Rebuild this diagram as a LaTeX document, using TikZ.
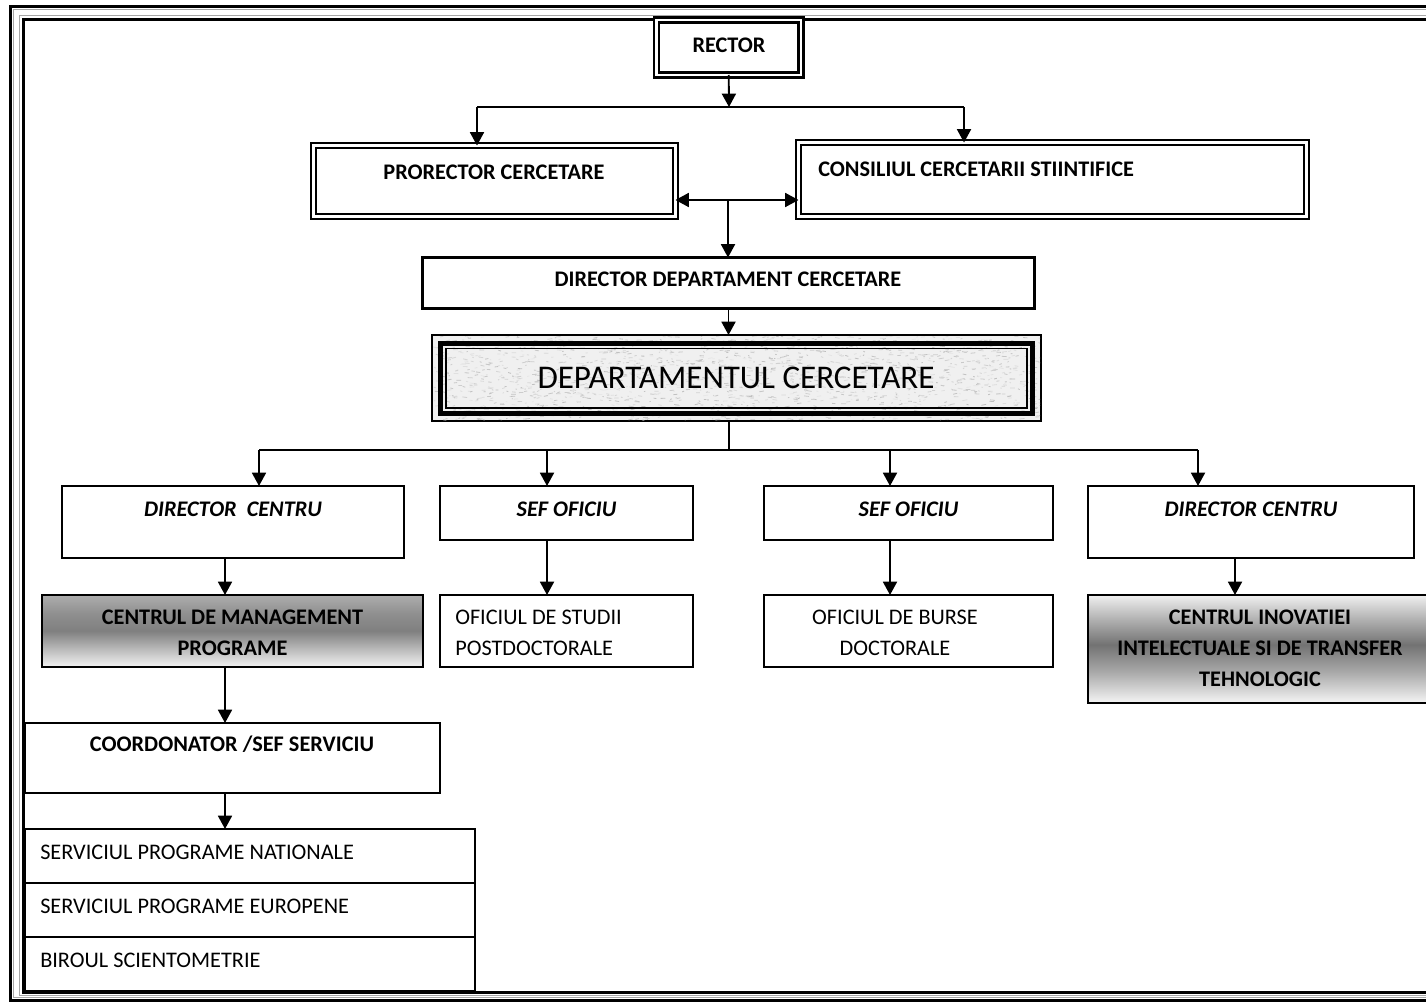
\documentclass[tikz,border=0pt]{standalone}
\usepackage{fontspec}
\setmainfont{Carlito}
\usetikzlibrary{arrows.meta,fit,calc}

\newcommand\lblsize{\fontsize{16.7}{23.25}\selectfont}
\newcommand\bigsize{\fontsize{24.8}{29}\selectfont}

% box from corner (x1,y1) to corner (x2,y2): [style]{name}{x1}{y1}{x2}{y2}
\newcommand\orgbox[6][]{%
  \coordinate (#2-a) at (#3,#4);
  \coordinate (#2-b) at (#5,#6);
  \node[inner sep=0pt, outer sep=0pt, #1, fit=(#2-a)(#2-b)] (#2) {};
}

% vertical gradients (box spans 25bp..75bp, bottom to top)
\pgfdeclareverticalshading{cmshade}{100bp}{%
  color(0bp)=(black!5); color(25bp)=(black!5); color(38bp)=(black!28);
  color(50bp)=(black!50); color(62bp)=(black!44); color(75bp)=(black!32);
  color(100bp)=(black!32)}
\pgfdeclareverticalshading{inovshade}{100bp}{%
  color(0bp)=(black!4); color(25bp)=(black!4); color(40bp)=(black!35);
  color(52bp)=(black!55); color(64bp)=(black!30); color(75bp)=(black!6);
  color(100bp)=(black!6)}

\tikzset{
  conn/.style={line width=1.35pt},
  tip/.tip={Triangle[length=10pt,width=10.5pt]},
  arr/.style={conn,-tip},
  darr/.style={conn,tip-tip},
  thinbox/.style={draw,line width=1.25pt},
  stackbox/.style={draw,line width=1.45pt},
  dblbox/.style={draw,line width=1.7pt,double distance=1.9pt},
  thickbox/.style={draw,line width=2.7pt},
  lbl/.style={inner sep=0pt,font=\lblsize},
  lblb/.style={lbl,font=\lblsize\bfseries},
  lblbi/.style={lbl,font=\lblsize\bfseries\itshape},
  shadeA/.style={shade,shading=cmshade},
  shadeB/.style={shade,shading=inovshade},
}

\begin{document}
\begin{tikzpicture}[x=0.75pt,y=-0.75pt]
\useasboundingbox (0,0) rectangle (1426,1002);
\clip (0,0) rectangle (1426,1002);
\fill[white] (0,0) rectangle (1426,1002);

% page frame (runs past the right edge)
\draw[line width=2.4pt] (10.7,6.2) rectangle (1500,1000.5);
\draw[line width=0.7pt,gray!70] (13.9,9.8) rectangle (1500,997.2);
\draw[line width=0.7pt,gray!70] (19.3,15.4) rectangle (1500,995.4);
\draw[line width=2pt] (23.4,19.3) rectangle (1500,992.7);

% top level
\orgbox[dblbox]{rector}{656.5}{20}{801}{75}
\node[lblb,anchor=base] (rector-t) at (729,53) {RECTOR};

\orgbox[dblbox]{prorector}{313.5}{145.5}{675.5}{216.5}
\node[lblb,anchor=base] (prorector-t) at (494,179) {PRORECTOR CERCETARE};

\orgbox[dblbox]{consiliu}{798.5}{142.5}{1306.5}{216.5}
\node[lblb,anchor=base west] (consiliu-t) at (818,176) {CONSILIUL CERCETARII STIINTIFICE};

\coordinate (busA) at (729,107);
\coordinate (busA-l) at (477,107);
\coordinate (busA-r) at (964,107);
\draw[arr] (rector.south) -- (busA);
\draw[conn] (busA-l) -- (busA-r);
\draw[arr] (busA-l) -- (busA-l |- prorector.north);
\draw[arr] (busA-r) -- (busA-r |- consiliu.north);

\orgbox[thickbox]{dirdep}{422.5}{257.5}{1034.5}{308.5}
\node[lblb,anchor=base] (dirdep-t) at (728,286) {DIRECTOR DEPARTAMENT CERCETARE};

\coordinate (pc) at (728,200);
\draw[darr] (pc -| prorector.east) -- (pc -| consiliu.west);
\draw[arr] (pc) -- (pc |- dirdep.north);

% department box with textured fill
\orgbox[draw,line width=0.8pt,fill=gray!12]{dept}{432}{335}{1041}{421}
\begin{scope}
  \clip (433,336) rectangle (1040,420);
  \pgfmathsetseed{7}
  \foreach \k in {1,...,1800}{
    \pgfmathsetmacro\sx{433+607*rnd}
    \pgfmathsetmacro\sy{336+84*rnd}
    \pgfmathsetmacro\sl{1+4*rnd}
    \pgfmathsetmacro\sd{2*rnd-1}
    \pgfmathtruncatemacro\sg{18+34*rnd}
    \draw[gray!\sg,line width=0.6pt] (\sx,\sy) -- ++(\sl,\sd);
  }
\end{scope}
\draw[line width=3.75pt] (440.5,343) rectangle (1032.5,413.5);
\draw[line width=0.8pt] (446,348.5) rectangle (1027,408);
\node[inner sep=0pt,font=\bigsize,anchor=base] (dept-t) at (736,388) {DEPARTAMENTUL CERCETARE};

\draw[arr] (dirdep.south) -- (dirdep.south |- dept.north);

% second level
\orgbox[thinbox]{dc1}{62}{486}{404}{558}
\node[lblbi,anchor=base] (dc1-t) at (233,516) {DIRECTOR\ \ CENTRU};
\orgbox[thinbox]{sef1}{440}{486}{693}{540}
\node[lblbi,anchor=base] (sef1-t) at (566.5,516) {SEF OFICIU};
\orgbox[thinbox]{sef2}{764}{486}{1053}{540}
\node[lblbi,anchor=base] (sef2-t) at (908.5,516) {SEF OFICIU};
\orgbox[thinbox]{dc2}{1088}{486}{1414}{558}
\node[lblbi,anchor=base] (dc2-t) at (1251,516) {DIRECTOR CENTRU};

\coordinate (busB) at (729,450);
\coordinate (busB-1) at (259,450);
\coordinate (busB-2) at (547,450);
\coordinate (busB-3) at (890,450);
\coordinate (busB-4) at (1198,450);
\draw[conn] (busB |- dept.south) -- (busB);
\draw[conn] (busB-1) -- (busB-4);
\draw[arr] (busB-1) -- (busB-1 |- dc1.north);
\draw[arr] (busB-2) -- (busB-2 |- sef1.north);
\draw[arr] (busB-3) -- (busB-3 |- sef2.north);
\draw[arr] (busB-4) -- (busB-4 |- dc2.north);

% third level
\orgbox[thinbox,shadeA]{cm}{42}{595}{423}{667}
\node[lblb,align=center] (cm-t) at (232.5,632.5) {CENTRUL DE MANAGEMENT\\PROGRAME};
\orgbox[thinbox]{studii}{440}{595}{693}{667}
\node[lbl,align=left,anchor=west] (studii-t) at (455,632.5) {OFICIUL DE STUDII\\POSTDOCTORALE};
\orgbox[thinbox]{burse}{764}{595}{1053}{667}
\node[lbl,align=center] (burse-t) at (895,632.5) {OFICIUL DE BURSE\\DOCTORALE};
\orgbox[thinbox,shadeB]{inov}{1088}{595}{1432}{703}
\node[lblb,align=center] (inov-t) at (1260,648) {CENTRUL INOVATIEI\\INTELECTUALE SI DE TRANSFER\\TEHNOLOGIC};

\coordinate (colA) at (225,0);
\coordinate (colB) at (547,0);
\coordinate (colC) at (890,0);
\coordinate (colD) at (1235,0);
\draw[arr] (colA |- dc1.south) -- (colA |- cm.north);
\draw[arr] (colB |- sef1.south) -- (colB |- studii.north);
\draw[arr] (colC |- sef2.south) -- (colC |- burse.north);
\draw[arr] (colD |- dc2.south) -- (colD |- inov.north);

% services
\orgbox[thinbox]{coord}{25}{723}{440}{793}
\node[lblb,anchor=base] (coord-t) at (232,751) {COORDONATOR /SEF SERVICIU};
\draw[arr] (colA |- cm.south) -- (colA |- coord.north);

\orgbox[stackbox]{s1}{25}{829}{475}{883}
\orgbox[stackbox]{s2}{25}{883}{475}{937}
\orgbox[stackbox]{s3}{25}{937}{475}{991}
\node[lbl,anchor=base west] (s1-t) at (40,859) {SERVICIUL PROGRAME NATIONALE};
\node[lbl,anchor=base west] (s2-t) at (40,913) {SERVICIUL PROGRAME EUROPENE};
\node[lbl,anchor=base west] (s3-t) at (40,967) {BIROUL SCIENTOMETRIE};
\draw[arr] (colA |- coord.south) -- (colA |- s1.north);
\end{tikzpicture}
\end{document}
